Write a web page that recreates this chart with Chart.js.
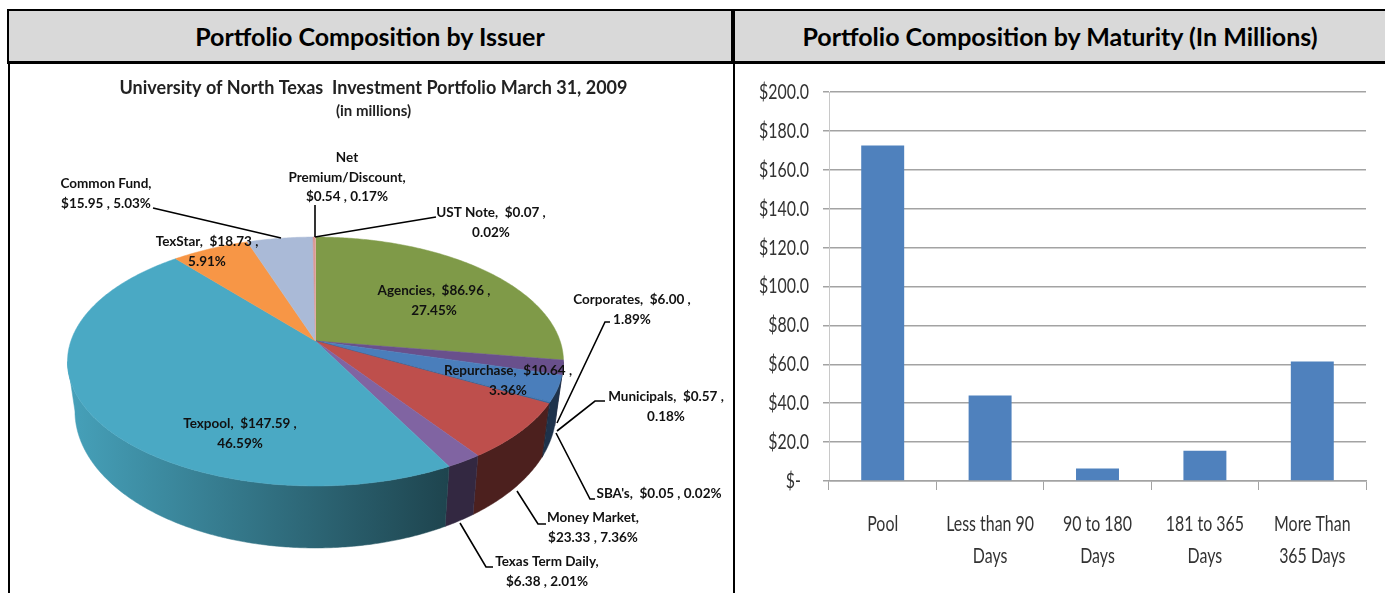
<!DOCTYPE html>
<html>
<head>
<meta charset="utf-8">
<title>Portfolio Composition</title>
<script src="https://cdn.jsdelivr.net/npm/chart.js@4"></script>
<style>
  html, body { margin: 0; padding: 0; background: #fff; overflow: hidden; }
  body { width: 1385px; height: 593px; position: relative; font-family: Lato, sans-serif; }
  .head {
    position: absolute; top: 9px; height: 50px; line-height: 50px;
    background: #d9d9d9; border: solid #000; border-width: 2px 2px 3px 2px;
    text-align: center; font-weight: bold; font-size: 25px; color: #000; box-sizing: content-box;
  }
  #headLeft { left: 7px; width: 722px; }
  #headRight { left: 733px; width: 660px; }
  .rule { position: absolute; top: 62px; bottom: 0; width: 2px; background: #000; }
  canvas { position: absolute; }
  #pieCanvas { left: 0; top: 0; }
  #barCanvas { left: 735px; top: 64px; }
</style>
</head>
<body>
<canvas id="pieCanvas" width="733" height="593" style="width:733px;height:593px"></canvas>
<canvas id="barCanvas" width="650" height="529" style="width:650px;height:529px"></canvas>
<div class="head" id="headLeft">Portfolio Composition by Issuer</div>
<div class="head" id="headRight"><span style="position:relative;left:-5px">Portfolio Composition by Maturity (In Millions)</span></div>
<div class="rule" style="left:8px"></div>
<div class="rule" style="left:733px"></div>
<script>
// issuer pie
const issuers = ['Agencies', 'Corporates', 'Repurchase', 'Municipals', "SBA's", 'Money Market',
  'Texas Term Daily', 'Texpool', 'TexStar', 'Common Fund', 'Net Premium/Discount', 'UST Note'];
const issuerAmounts = [86.96, 6.00, 10.64, 0.57, 0.05, 23.33, 6.38, 147.59, 18.73, 15.95, 0.54, 0.07];
const issuerPercents = [27.45, 1.89, 3.36, 0.18, 0.02, 7.36, 2.01, 46.59, 5.91, 5.03, 0.17, 0.02];
const issuerColors = ['#7f9a48', '#69508c', '#4a7ebb', '#3a6ea5', '#2c5a8c', '#be4f4c',
  '#8064a2', '#4aa9c4', '#f79646', '#aabad7', '#d99694', '#e6b0a8'];

// maturity bars
const maturities = ['Pool', ['Less than 90', 'Days'], ['90 to 180', 'Days'], ['181 to 365', 'Days'], ['More Than', '365 Days']];
const maturityValues = [172.5, 44, 6.4, 15.6, 61.5];

// where each pie label sits: centre x, first line y, how the text wraps
const labelSpots = [
  [434, 291, 'amount'], [632, 300, 'amount'], [508, 371, 'amount'], [666, 397, 'amount'],
  [659, 494, 'line'], [593, 518, 'name'], [547, 562, 'name'], [240, 424, 'amount'],
  [207, 242, 'amount'], [106, 184, 'name'], [347, 158, 'words'], [491, 213, 'amount']
];
// leader lines, from label to slice
const leaders = [
  null,
  [[610, 322], [605, 322], [557, 423]],
  null,
  [[605, 401], [595, 401], [557, 431]],
  [[595, 499], [590, 499], [556, 433]],
  [[546, 524], [538, 524], [517, 491]],
  [[493, 567], [486, 567], [460, 523]],
  null, null,
  [[153, 208], [281, 238]],
  [[315, 205], [315, 237]],
  [[436, 217], [315, 237]]
];

// perspective of the pie disc
const apexX = 315.5, apexY = 341, discA = 244.6, discB = 121.1, tilt = 0.1647;
// lower rim of the disc relative to the upper one
const rimScaleX = 0.97, rimScaleY = 1.1, rimDrop = 47.5;
// the disc's silhouette turns here
const rimTurn = Math.asin(tilt);

function rimPoint(angle, lower) {
  const u = Math.cos(angle), v = Math.sin(angle), w = 1 - tilt * v;
  const dx = discA * u / w, dy = discB * v / w;
  if (lower) return [apexX + dx * rimScaleX, apexY + dy * rimScaleY + rimDrop];
  return [apexX + dx, apexY + dy];
}

function shade(hex, f) {
  const n = parseInt(hex.slice(1), 16);
  return 'rgb(' + Math.round((n >> 16) * f) + ',' + Math.round(((n >> 8) & 255) * f) + ',' + Math.round((n & 255) * f) + ')';
}

function labelLines(i, wrap) {
  const amt = '$' + issuerAmounts[i].toFixed(2), pct = issuerPercents[i].toFixed(2) + '%';
  if (wrap === 'amount') return [issuers[i] + ',  ' + amt + ' ,', pct];
  if (wrap === 'name') return [issuers[i] + ',', amt + ' , ' + pct];
  if (wrap === 'words') return [issuers[i].split(' ')[0], issuers[i].split(' ')[1] + ',', amt + ' , ' + pct];
  return [issuers[i] + ',  ' + amt + ' , ' + pct];
}

// draws the arcs the library worked out as a tilted 3D disc
const tiltedPie = {
  id: 'tiltedPie',
  beforeDatasetsDraw(chart) {
    const ctx = chart.ctx;
    const arcs = chart.getDatasetMeta(0).data;
    ctx.save();
    arcs.forEach(function (arc, i) {
      const a0 = Math.max(arc.startAngle, rimTurn);
      const a1 = Math.min(arc.endAngle, Math.PI - rimTurn);
      if (a1 <= a0) return;
      const grad = ctx.createLinearGradient(68, 0, 450, 0);
      grad.addColorStop(0, shade(issuerColors[i], 0.95));
      grad.addColorStop(1, shade(issuerColors[i], 0.4));
      ctx.beginPath();
      for (let a = a0; a < a1; a += 0.01) ctx.lineTo(...rimPoint(a, false));
      ctx.lineTo(...rimPoint(a1, false));
      ctx.lineTo(...rimPoint(a1, true));
      for (let a = a1; a > a0; a -= 0.01) ctx.lineTo(...rimPoint(a, true));
      ctx.lineTo(...rimPoint(a0, true));
      ctx.closePath();
      ctx.fillStyle = grad;
      ctx.strokeStyle = grad;
      ctx.lineWidth = 0.5;
      ctx.fill();
      ctx.stroke();
    });
    arcs.forEach(function (arc) {
      ctx.beginPath();
      ctx.moveTo(apexX, apexY);
      for (let a = arc.startAngle; a < arc.endAngle; a += 0.01) ctx.lineTo(...rimPoint(a, false));
      ctx.lineTo(...rimPoint(arc.endAngle, false));
      ctx.closePath();
      ctx.fillStyle = arc.options.backgroundColor;
      ctx.strokeStyle = arc.options.backgroundColor;
      ctx.lineWidth = 0.5;
      ctx.fill();
      ctx.stroke();
    });
    ctx.restore();
    return false;
  },
  // returning false above skips afterDatasetsDraw, so labels go here
  afterDraw(chart) {
    const ctx = chart.ctx;
    ctx.save();
    ctx.strokeStyle = '#000';
    ctx.lineWidth = 1.6;
    leaders.forEach(function (pts) {
      if (!pts) return;
      ctx.beginPath();
      pts.forEach(p => ctx.lineTo(p[0], p[1]));
      ctx.stroke();
    });
    ctx.fillStyle = '#111';
    ctx.font = 'bold 13.5px Lato';
    ctx.textAlign = 'center';
    ctx.textBaseline = 'middle';
    labelSpots.forEach(function (spot, i) {
      labelLines(i, spot[2]).forEach(function (txt, k) {
        ctx.fillText(txt, spot[0], spot[1] + k * 19.3);
      });
    });
    ctx.restore();
  }
};

// no narrow font is installed, so the axis labels are squeezed by hand
const narrowTicks = {
  id: 'narrowTicks',
  afterDraw(chart) {
    const ctx = chart.ctx;
    const squeeze = 0.74;
    ctx.save();
    ctx.fillStyle = '#333';
    ctx.font = '21.5px Lato';
    ctx.textBaseline = 'middle';
    ctx.textAlign = 'right';
    const y = chart.scales.y, x = chart.scales.x;
    y.ticks.forEach(function (t, i) {
      ctx.save();
      ctx.translate(y.right - 20, y.getPixelForTick(i));
      ctx.scale(squeeze, 1);
      ctx.fillText(t.label, 0, 0);
      ctx.restore();
    });
    ctx.textAlign = 'center';
    x.ticks.forEach(function (t, i) {
      const lines = [].concat(t.label);
      lines.forEach(function (txt, k) {
        ctx.save();
        ctx.translate(x.getPixelForTick(i), x.top + 43 + k * 32);
        ctx.scale(squeeze, 1);
        ctx.fillText(txt, 0, 0);
        ctx.restore();
      });
    });
    ctx.restore();
  }
};

new Chart(document.getElementById('pieCanvas'), {
  type: 'pie',
  data: {
    labels: issuers,
    datasets: [{ data: issuerAmounts, backgroundColor: issuerColors, borderWidth: 0 }]
  },
  options: {
    responsive: false,
    animation: false,
    layout: { padding: { left: 14, top: 77 } },
    plugins: {
      legend: { display: false },
      tooltip: { enabled: false },
      title: {
        display: true,
        text: 'University of North Texas  Investment Portfolio March 31, 2009',
        color: '#222',
        font: { family: 'Lato', size: 18, weight: 'bold' },
        padding: { top: 0, bottom: 4 }
      },
      subtitle: {
        display: true,
        text: '(in millions)',
        color: '#222',
        font: { family: 'Lato', size: 15, weight: 'bold' }
      }
    }
  },
  plugins: [tiltedPie]
});

new Chart(document.getElementById('barCanvas'), {
  type: 'bar',
  data: {
    labels: maturities,
    datasets: [{
      data: maturityValues,
      backgroundColor: '#4f81bd',
      barPercentage: 0.4,
      categoryPercentage: 1.0
    }]
  },
  options: {
    responsive: false,
    animation: false,
    layout: { padding: { top: 28, right: 19, left: 0, bottom: 0 } },
    plugins: { legend: { display: false }, tooltip: { enabled: false } },
    scales: {
      y: {
        min: 0,
        max: 200,
        afterFit(scale) { scale.width = 94; },
        ticks: {
          display: false,
          stepSize: 20,
          callback: v => v === 0 ? '$-  ' : '$' + v.toFixed(1)
        },
        grid: { color: '#a3a3a3', lineWidth: 1.5, tickLength: 6, tickColor: '#a3a3a3' },
        border: { color: '#c8c8c8', width: 1 }
      },
      x: {
        afterFit(scale) { scale.height = 112; },
        ticks: { display: false, maxRotation: 0, autoSkip: false },
        grid: { drawOnChartArea: false, tickLength: 9, color: '#a3a3a3', tickColor: '#a3a3a3', lineWidth: 1 },
        border: { color: '#a3a3a3', width: 1.5 }
      }
    }
  },
  plugins: [narrowTicks]
});
</script>
</body>
</html>
